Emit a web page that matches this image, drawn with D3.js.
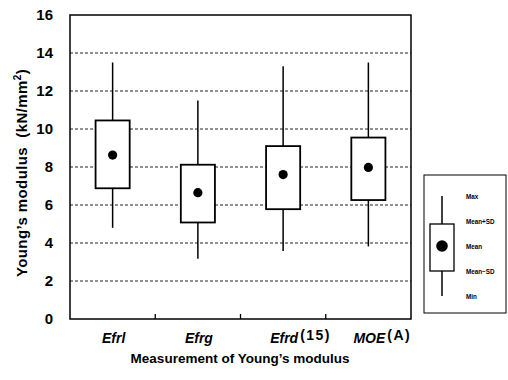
<!DOCTYPE html>
<html>
<head>
<meta charset="utf-8">
<script src="https://cdn.jsdelivr.net/npm/d3@7"></script>
<style>
  html, body { margin: 0; padding: 0; background: #fff; }
  svg { display: block; font-family: "Liberation Sans", Arial, sans-serif; }
</style>
</head>
<body>
<svg id="chart" width="508" height="380"></svg>
<script>
// Young's modulus by measurement method (kN/mm²)
const categories = ["Efrl", "Efrg", "Efrd", "MOE"];
const suffixes   = ["", "", "(15)", "(A)"];
const maxVals    = [13.5, 11.5, 13.3, 13.5];
const plusSD     = [10.45, 8.12, 9.1, 9.55];
const means      = [8.63, 6.65, 7.6, 7.98];
const minusSD    = [6.88, 5.08, 5.78, 6.26];
const minVals    = [4.8, 3.17, 3.58, 3.82];
const yTicks     = [0, 2, 4, 6, 8, 10, 12, 14, 16];
const legendLabels = ["Max", "Mean+SD", "Mean", "Mean\u2212SD", "Min"];

const svg = d3.select("#chart");
const plot = { left: 70, right: 411, top: 15, bottom: 319 };

const x = d3.scaleBand().domain(categories).range([plot.left, plot.right]);
const y = d3.scaleLinear().domain([0, 16]).range([plot.bottom, plot.top]);

// dashed gridlines
svg.append("g")
  .selectAll("line")
  .data(yTicks.filter(t => t > 0 && t < 16))
  .join("line")
  .attr("x1", plot.left).attr("x2", plot.right)
  .attr("y1", d => y(d)).attr("y2", d => y(d))
  .attr("stroke", "#222").attr("stroke-width", 1)
  .attr("stroke-dasharray", "3,2");

// y axis tick labels
const yAxis = d3.axisLeft(y).tickValues(yTicks).tickSize(0).tickPadding(17);
const gy = svg.append("g").attr("transform", `translate(${plot.left},0)`).call(yAxis);
gy.select(".domain").remove();
gy.selectAll("text")
  .attr("font-size", 15).attr("font-weight", "bold")
  .attr("font-family", "'Liberation Sans', Arial, sans-serif")
  .attr("fill", "#000");

// bottom axis with category dividers pointing inward
const boundaries = categories.slice(1).map(c => x(c));
svg.append("g")
  .selectAll("line")
  .data(boundaries)
  .join("line")
  .attr("x1", d => d).attr("x2", d => d)
  .attr("y1", plot.bottom).attr("y2", plot.bottom - 5)
  .attr("stroke", "#000").attr("stroke-width", 1.3);

// frame
svg.append("rect")
  .attr("x", plot.left).attr("y", plot.top)
  .attr("width", plot.right - plot.left).attr("height", plot.bottom - plot.top)
  .attr("fill", "none").attr("stroke", "#000").attr("stroke-width", 1.5);

// boxes
const boxW = x.bandwidth() * 0.4;
const rows = categories.map((c, i) => ({
  c, max: maxVals[i], hi: plusSD[i], mean: means[i], lo: minusSD[i], min: minVals[i]
}));
const g = svg.append("g").selectAll("g").data(rows).join("g")
  .attr("transform", d => `translate(${x(d.c) + x.bandwidth() / 2},0)`);
g.append("line")
  .attr("x1", 0).attr("x2", 0)
  .attr("y1", d => y(d.max)).attr("y2", d => y(d.min))
  .attr("stroke", "#000").attr("stroke-width", 1.5);
g.append("rect")
  .attr("x", -boxW / 2).attr("width", boxW)
  .attr("y", d => y(d.hi)).attr("height", d => y(d.lo) - y(d.hi))
  .attr("fill", "#fff").attr("stroke", "#000").attr("stroke-width", 1.8);
g.append("circle")
  .attr("cx", 0).attr("cy", d => y(d.mean)).attr("r", 4.6)
  .attr("fill", "#000");

// category labels: italic name centred in band, upright suffix raised
const lab = svg.append("g").selectAll("text").data(categories).join("text")
  .attr("y", 343)
  .attr("font-size", 14).attr("font-weight", "bold").attr("fill", "#000");
lab.each(function (d, i) {
  const t = d3.select(this);
  t.append("tspan").attr("font-style", "italic").text(d);
  if (suffixes[i]) t.append("tspan").attr("dx", 2).attr("dy", -3)
    .attr("font-size", 14).attr("letter-spacing", 1.5).text(suffixes[i]);
  const nameW = this.firstChild.getComputedTextLength();
  t.attr("x", x(d) + x.bandwidth() / 2 - nameW / 2 + 1);
});

// axis titles
svg.append("text")
  .attr("x", 240).attr("y", 363)
  .attr("text-anchor", "middle")
  .attr("font-size", 13.5).attr("font-weight", "bold")
  .text("Measurement of Young\u2019s modulus");

const yt = svg.append("text")
  .attr("transform", `translate(27,${(plot.top + plot.bottom) / 2 + 6}) rotate(-90)`)
  .attr("text-anchor", "middle")
  .attr("font-size", 15).attr("font-weight", "bold")
  .attr("letter-spacing", 0.4);
yt.append("tspan").text("Young\u2019s modulus\u00a0\u00a0(kN/mm");
yt.append("tspan").attr("dy", -6).attr("font-size", 10).text("2");
yt.append("tspan").attr("dy", 6).text(")");

// legend
const leg = svg.append("g");
leg.append("rect")
  .attr("x", 424).attr("y", 175).attr("width", 82).attr("height", 138)
  .attr("fill", "#fff").attr("stroke", "#000").attr("stroke-width", 1);
const legY = d3.scaleLinear().domain([0, 4]).range([296, 196]);
const legVals = [4, 3, 2, 1, 0];
leg.append("line")
  .attr("x1", 442).attr("x2", 442)
  .attr("y1", legY(4)).attr("y2", legY(0))
  .attr("stroke", "#000").attr("stroke-width", 1.5);
leg.append("rect")
  .attr("x", 430).attr("width", 24)
  .attr("y", legY(3) + 3).attr("height", legY(1) - legY(3) - 3)
  .attr("fill", "#fff").attr("stroke", "#000").attr("stroke-width", 1.3);
leg.append("circle")
  .attr("cx", 442).attr("cy", legY(2)).attr("r", 5.8).attr("fill", "#000");
leg.selectAll("text.lg").data(legendLabels).join("text")
  .attr("class", "lg")
  .attr("x", 466).attr("y", (d, i) => legY(legVals[i]) + 3)
  .attr("font-size", 6.3).attr("font-weight", "bold")
  .text(d => d);
</script>
</body>
</html>
